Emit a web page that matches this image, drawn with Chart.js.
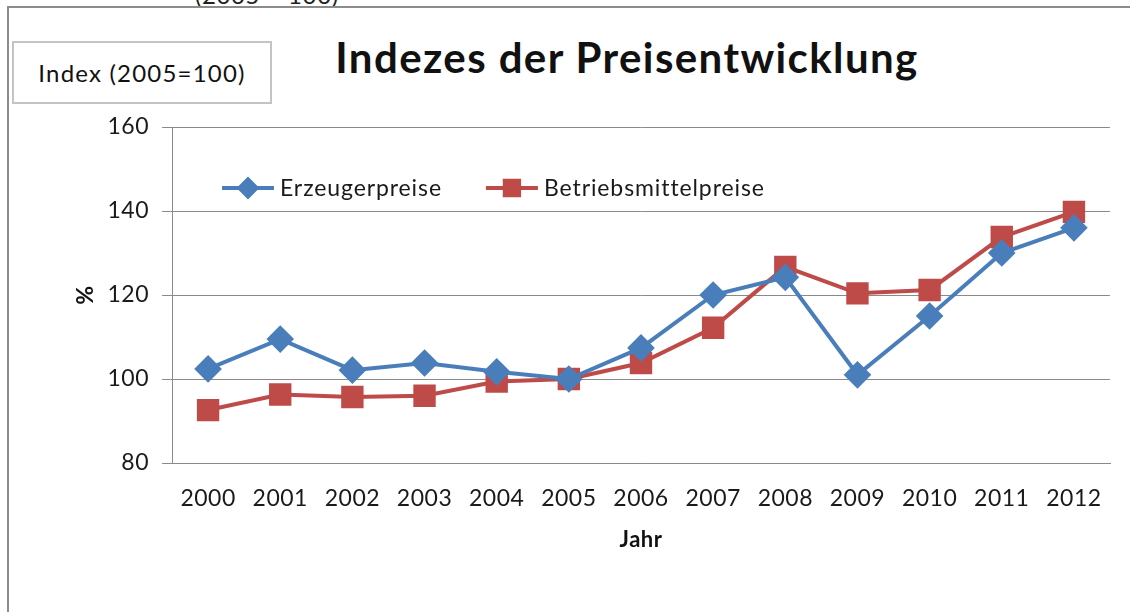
<!DOCTYPE html>
<html>
<head>
<meta charset="utf-8">
<script src="https://cdn.jsdelivr.net/npm/chart.js@4/dist/chart.umd.min.js"></script>
<style>
    body { margin: 0; background: #fff; }
    #wrap { position: relative; width: 1130px; height: 612px; overflow: hidden; }
    #frame { position: absolute; left: 7px; top: 6px; width: 1130px; height: 620px;
             border-left: 2px solid #8c8c8c; border-top: 2px solid #8c8c8c; }
    #clipped { position: absolute; left: 195px; top: -20px; font: 24px Lato, sans-serif; letter-spacing: 0.6px; color: #222; }
    #indexBox { position: absolute; left: 12px; top: 41px; width: 256px; height: 59px;
                border: 2px solid #c4c4c4; font: 24px Lato, sans-serif; letter-spacing: 1.2px; color: #111;
                display: flex; align-items: center; justify-content: center; }
    #title { position: absolute; left: 300px; width: 654px; top: 32px; text-align: center;
             font: bold 42px Lato, sans-serif; letter-spacing: 1.4px; color: #111; }
    canvas { position: absolute; left: 0; top: 0; }
</style>
</head>
<body>
<div id="wrap">
    <div id="clipped">(2005 = 100)</div>
    <div id="frame"></div>
    <div id="indexBox">Index (2005=100)</div>
    <div id="title">Indezes der Preisentwicklung</div>
    <canvas id="c" width="1130" height="612"></canvas>
</div>
<script>
// --- data ---
const years = ['2000','2001','2002','2003','2004','2005','2006','2007','2008','2009','2010','2011','2012'];
const erzeugerpreise       = [102.4, 109.5, 102.1, 103.8, 101.7, 100.0, 107.4, 120.0, 124.2, 101.0, 115.0, 130.0, 136.0];
const betriebsmittelpreise = [92.6, 96.3, 95.7, 96.0, 99.4, 100.0, 103.8, 112.2, 126.7, 120.4, 121.2, 133.8, 139.8];
const seriesNames = ['Erzeugerpreise', 'Betriebsmittelpreise'];

const BLUE = '#4a7ebb';
const RED  = '#be4b48';
const GRID = '#8a8a8a';
const FONT = 'Lato, sans-serif';

// original text looks a bit wider, so space the canvas letters slightly
const spacing = {
    id: 'spacing',
    beforeDraw(chart) { chart.ctx.letterSpacing = '0.5px'; }
};

// legend drawn inside the plot area, like the original
const innerLegend = {
    id: 'innerLegend',
    afterDraw(chart, args, opts) {
        const ctx = chart.ctx;
        let x = opts.x;
        const y = opts.y;
        ctx.save();
        ctx.font = '23px ' + FONT;
        ctx.letterSpacing = '0.9px';
        ctx.textBaseline = 'middle';
        chart.data.datasets.forEach((ds) => {
            ctx.strokeStyle = ds.borderColor;
            ctx.lineWidth = 4;
            ctx.beginPath();
            ctx.moveTo(x, y);
            ctx.lineTo(x + 52, y);
            ctx.stroke();
            ctx.fillStyle = ds.pointBackgroundColor;
            Chart.helpers.drawPoint(ctx, { pointStyle: ds.pointStyle, rotation: 0, borderWidth: 1, radius: ds.pointRadius * 0.78 }, x + 26, y);
            ctx.fillStyle = '#1a1a1a';
            ctx.fillText(ds.label, x + 58, y + 1);
            x += 58 + ctx.measureText(ds.label).width + opts.gap;
        });
        ctx.restore();
    }
};

const chart = new Chart(document.getElementById('c'), {
    type: 'line',
    data: {
        labels: years,
        datasets: [{
            label: seriesNames[0],
            data: erzeugerpreise,
            borderColor: BLUE,
            backgroundColor: BLUE,
            pointBackgroundColor: BLUE,
            pointBorderColor: BLUE,
            borderWidth: 4,
            pointStyle: 'rectRot',
            pointRadius: 11,
            tension: 0
        }, {
            label: seriesNames[1],
            data: betriebsmittelpreise,
            borderColor: RED,
            backgroundColor: RED,
            pointBackgroundColor: RED,
            pointBorderColor: RED,
            borderWidth: 4,
            pointStyle: 'rect',
            pointRadius: 13,
            tension: 0
        }]
    },
    options: {
        responsive: false,
        animation: false,
        layout: { padding: { left: 72, right: 20, top: 127, bottom: 49 } },
        scales: {
            x: {
                offset: true,
                grid: { display: false },
                border: { color: GRID, width: 1 },
                ticks: { color: '#1a1a1a', font: { family: FONT, size: 23 }, padding: 14, maxRotation: 0, autoSkip: false },
                title: { display: true, text: 'Jahr', color: '#111', font: { family: FONT, size: 22, weight: 'bold' }, padding: { top: 0, bottom: 10 } },
                afterFit(scale) { scale.height = 100; }
            },
            y: {
                min: 80,
                max: 160,
                ticks: { stepSize: 20, color: '#1a1a1a', font: { family: FONT, size: 23 }, padding: 13 },
                grid: { color: GRID, lineWidth: 1, tickLength: 10 },
                border: { color: GRID, width: 1 },
                title: { display: true, text: '%', color: '#111', font: { family: FONT, size: 23, weight: 'bold' }, padding: { top: 0, bottom: 0 } },
                afterFit(scale) { scale.width = 100; }
            }
        },
        plugins: {
            legend: { display: false },
            tooltip: { enabled: false },
            innerLegend: { x: 222, y: 188, gap: 44 }
        }
    },
    plugins: [spacing, innerLegend]
});
</script>
</body>
</html>
